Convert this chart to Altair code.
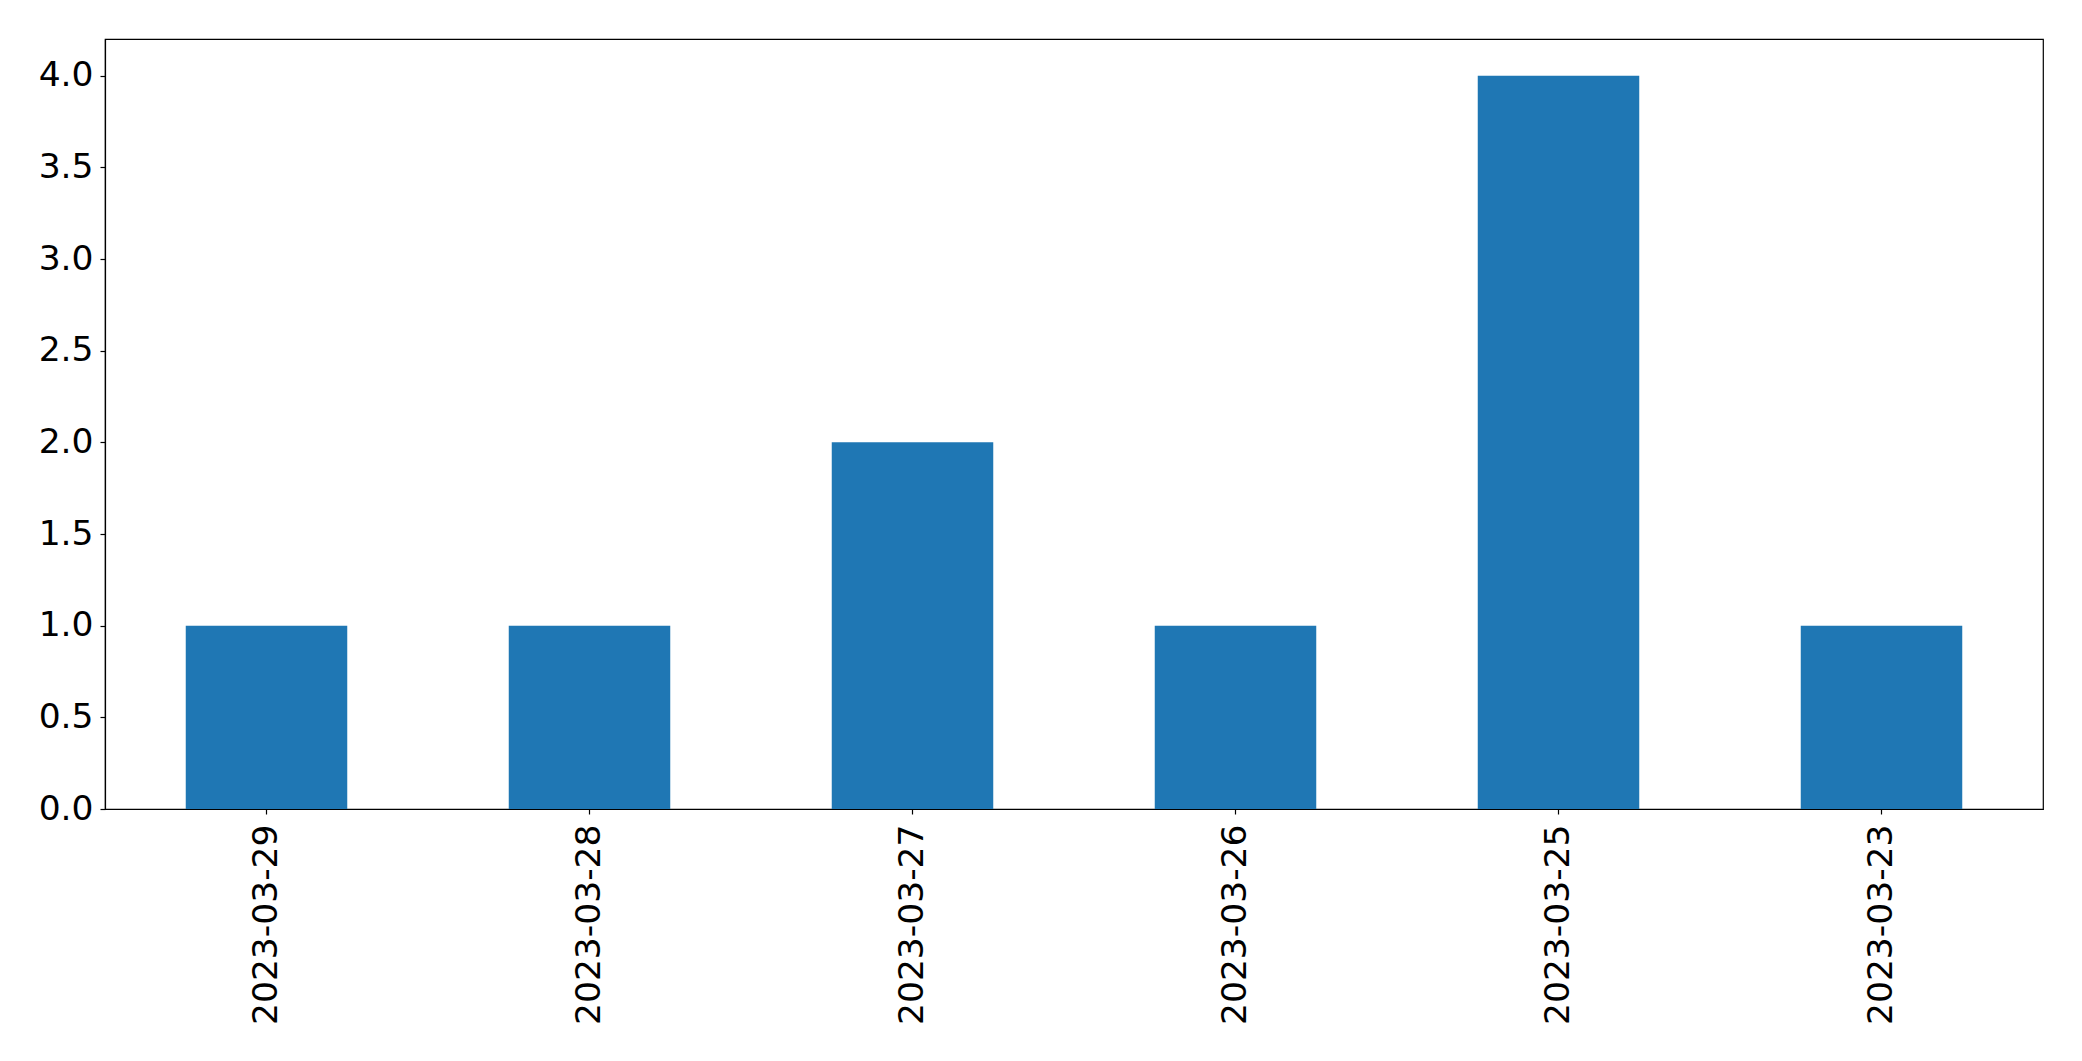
import altair as alt
import pandas as pd

dates = ["2023-03-29", "2023-03-28", "2023-03-27", "2023-03-26", "2023-03-25", "2023-03-23"]
counts = [1, 1, 2, 1, 4, 1]
y_ticks = [0, 0.5, 1.0, 1.5, 2.0, 2.5, 3.0, 3.5, 4.0]

df = pd.DataFrame({"date": dates, "count": counts})

chart = alt.Chart(df).mark_bar(color="#1f77b4").encode(
    x=alt.X("date:N", sort=dates, title=None,
            scale=alt.Scale(paddingInner=0.5, paddingOuter=0.25),
            axis=alt.Axis(labelAngle=-90, labelFontSize=34.5, labelFont="DejaVu Sans",
                          labelColor="black", tickColor="black", tickSize=5,
                          domainColor="black", labelPadding=10, grid=False,
                          labelLimit=1000)),
    y=alt.Y("count:Q", title=None,
            scale=alt.Scale(domain=[0, 4.2], nice=False, zero=True),
            axis=alt.Axis(values=y_ticks, format=".1f", labelFontSize=34.5,
                          labelFont="DejaVu Sans", labelColor="black",
                          tickColor="black", tickSize=5, domainColor="black",
                          labelPadding=7, grid=False)),
).properties(
    width=1938, height=770,
    autosize=alt.AutoSizeParams(type="none"),
    padding={"left": 97, "top": 31, "right": 30, "bottom": 240},
).configure_view(
    stroke="black", strokeWidth=1.2
).configure_axis(
    domainWidth=1.2, tickWidth=1.2
)

chart.save("out.html", embed_options={"renderer": "svg", "actions": False})
